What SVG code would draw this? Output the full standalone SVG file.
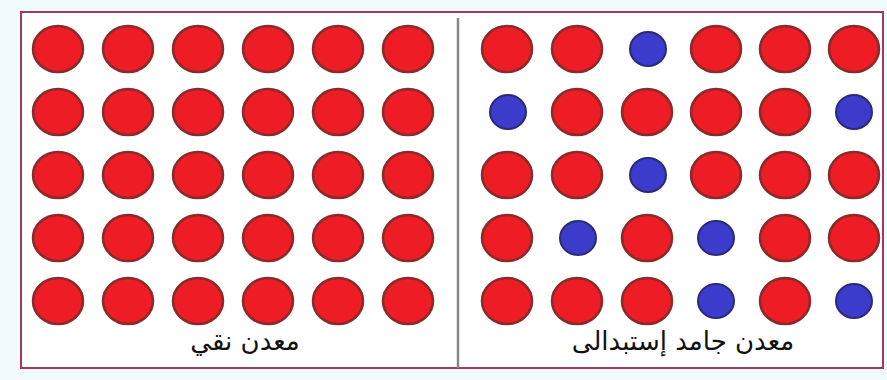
<svg xmlns="http://www.w3.org/2000/svg" width="887" height="380" viewBox="0 0 887 380">
<style>
.r{fill:#ee1c24;stroke:#8a2a2a;stroke-width:2.5}
.b{fill:#3c3ccc;stroke:#2a2a7a;stroke-width:2}
.t{font-family:"DejaVu Sans","Liberation Sans",sans-serif;font-size:26px;fill:#111;text-anchor:middle}
</style>
<rect x="0" y="0" width="887" height="380" fill="#f2fbfc"/>
<rect x="21" y="12" width="862" height="356" fill="#ffffff" stroke="#a03a5a" stroke-width="2"/>
<line x1="458" y1="18" x2="458" y2="368" stroke="#888" stroke-width="2.5"/>
<g id="pure">
<g id="pure-r1"><ellipse class="r" cx="58" cy="49" rx="25" ry="23"/><ellipse class="r" cx="128" cy="49" rx="25" ry="23"/><ellipse class="r" cx="198" cy="49" rx="25" ry="23"/><ellipse class="r" cx="268" cy="49" rx="25" ry="23"/><ellipse class="r" cx="338" cy="49" rx="25" ry="23"/><ellipse class="r" cx="408" cy="49" rx="25" ry="23"/></g>
<g id="pure-r2"><ellipse class="r" cx="58" cy="112" rx="25" ry="23"/><ellipse class="r" cx="128" cy="112" rx="25" ry="23"/><ellipse class="r" cx="198" cy="112" rx="25" ry="23"/><ellipse class="r" cx="268" cy="112" rx="25" ry="23"/><ellipse class="r" cx="338" cy="112" rx="25" ry="23"/><ellipse class="r" cx="408" cy="112" rx="25" ry="23"/></g>
<g id="pure-r3"><ellipse class="r" cx="58" cy="175" rx="25" ry="23"/><ellipse class="r" cx="128" cy="175" rx="25" ry="23"/><ellipse class="r" cx="198" cy="175" rx="25" ry="23"/><ellipse class="r" cx="268" cy="175" rx="25" ry="23"/><ellipse class="r" cx="338" cy="175" rx="25" ry="23"/><ellipse class="r" cx="408" cy="175" rx="25" ry="23"/></g>
<g id="pure-r4"><ellipse class="r" cx="58" cy="238" rx="25" ry="23"/><ellipse class="r" cx="128" cy="238" rx="25" ry="23"/><ellipse class="r" cx="198" cy="238" rx="25" ry="23"/><ellipse class="r" cx="268" cy="238" rx="25" ry="23"/><ellipse class="r" cx="338" cy="238" rx="25" ry="23"/><ellipse class="r" cx="408" cy="238" rx="25" ry="23"/></g>
<g id="pure-r5"><ellipse class="r" cx="58" cy="301" rx="25" ry="23"/><ellipse class="r" cx="128" cy="301" rx="25" ry="23"/><ellipse class="r" cx="198" cy="301" rx="25" ry="23"/><ellipse class="r" cx="268" cy="301" rx="25" ry="23"/><ellipse class="r" cx="338" cy="301" rx="25" ry="23"/><ellipse class="r" cx="408" cy="301" rx="25" ry="23"/></g>
<text class="t" x="245" y="350">معدن نقي</text>
</g>
<g id="alloy">
<g id="alloy-r1"><ellipse class="r" cx="507" cy="49" rx="25" ry="23"/><ellipse class="r" cx="577" cy="49" rx="25" ry="23"/><ellipse class="b" cx="648" cy="49" rx="18" ry="17"/><ellipse class="r" cx="716" cy="49" rx="25" ry="23"/><ellipse class="r" cx="785" cy="49" rx="25" ry="23"/><ellipse class="r" cx="854" cy="49" rx="25" ry="23"/></g>
<g id="alloy-r2"><ellipse class="b" cx="508" cy="112" rx="18" ry="17"/><ellipse class="r" cx="577" cy="112" rx="25" ry="23"/><ellipse class="r" cx="647" cy="112" rx="25" ry="23"/><ellipse class="r" cx="716" cy="112" rx="25" ry="23"/><ellipse class="r" cx="785" cy="112" rx="25" ry="23"/><ellipse class="b" cx="854" cy="112" rx="18" ry="17"/></g>
<g id="alloy-r3"><ellipse class="r" cx="507" cy="175" rx="25" ry="23"/><ellipse class="r" cx="577" cy="175" rx="25" ry="23"/><ellipse class="b" cx="648" cy="175" rx="18" ry="17"/><ellipse class="r" cx="716" cy="175" rx="25" ry="23"/><ellipse class="r" cx="785" cy="175" rx="25" ry="23"/><ellipse class="r" cx="854" cy="175" rx="25" ry="23"/></g>
<g id="alloy-r4"><ellipse class="r" cx="507" cy="238" rx="25" ry="23"/><ellipse class="b" cx="578" cy="238" rx="18" ry="17"/><ellipse class="r" cx="647" cy="238" rx="25" ry="23"/><ellipse class="b" cx="716" cy="238" rx="18" ry="17"/><ellipse class="r" cx="785" cy="238" rx="25" ry="23"/><ellipse class="r" cx="854" cy="238" rx="25" ry="23"/></g>
<g id="alloy-r5"><ellipse class="r" cx="507" cy="301" rx="25" ry="23"/><ellipse class="r" cx="577" cy="301" rx="25" ry="23"/><ellipse class="r" cx="647" cy="301" rx="25" ry="23"/><ellipse class="b" cx="716" cy="301" rx="18" ry="17"/><ellipse class="r" cx="785" cy="301" rx="25" ry="23"/><ellipse class="b" cx="854" cy="301" rx="18" ry="17"/></g>
<text class="t" x="683" y="350">معدن جامد إستبدالى</text>
</g>
</svg>
